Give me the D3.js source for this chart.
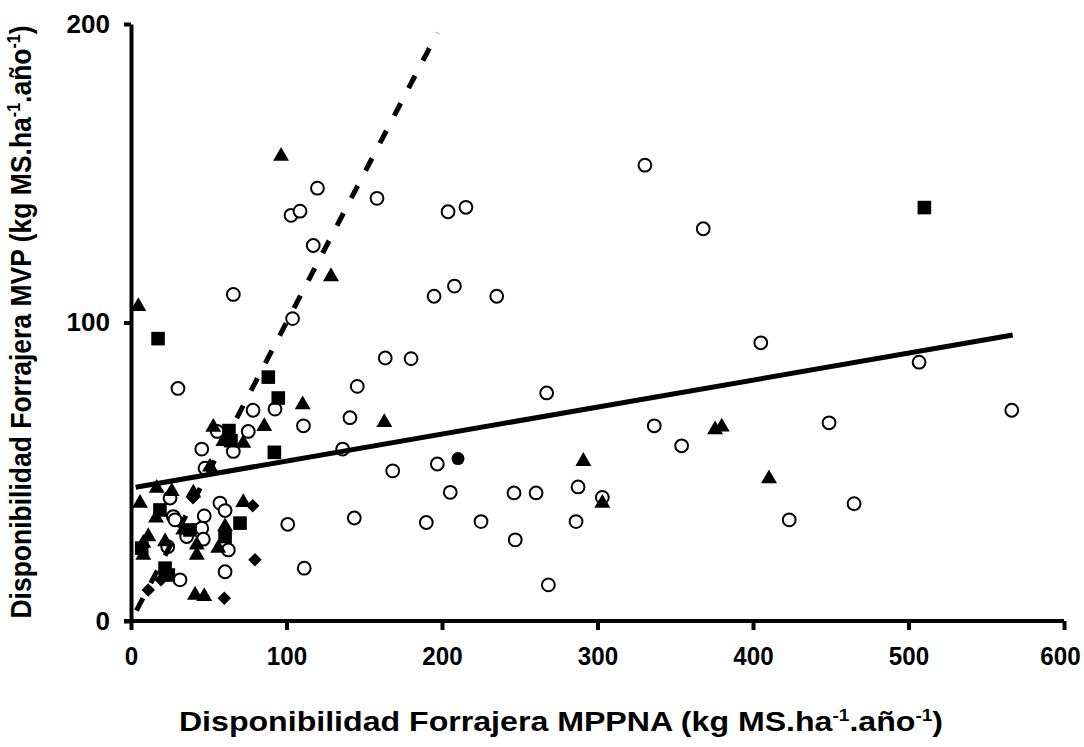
<!DOCTYPE html>
<html>
<head>
<meta charset="utf-8">
<script src="https://cdn.jsdelivr.net/npm/d3@7"></script>
<style>
  body { margin: 0; background: #fff; }
  text { font-family: "Liberation Sans", Arial, sans-serif; font-weight: bold; fill: #000; }
</style>
</head>
<body>
<div id="chart"></div>
<script>
// open circles
var circleX = [119.9, 102.9, 108.7, 117.2, 103.9, 158.2, 203.9, 215.4, 65.8, 194.9, 208.0, 235.2, 330.5, 368.0,
  163.5, 180.1, 145.5, 30.2, 140.8, 110.9, 78.5, 92.6, 75.4, 55.5, 65.8, 45.5, 47.6, 136.1, 168.3, 197.0,
  267.3, 336.5, 354.1, 205.3, 246.3, 260.5, 287.5, 303.1, 143.6, 189.9, 225.1, 286.2, 247.1, 268.4, 111.4,
  405.0, 506.8, 566.4, 448.9, 465.0, 423.3, 25.1, 27.2, 28.3, 57.2, 60.5, 47.1, 45.5, 35.8, 46.5, 23.6,
  62.6, 60.5, 31.5, 100.8];
var circleY = [145.0, 135.9, 137.3, 125.8, 101.3, 141.6, 137.1, 138.6, 109.4, 108.8, 112.2, 108.8, 152.7, 131.4,
  88.1, 87.9, 78.6, 77.9, 68.1, 65.4, 70.6, 71.0, 63.5, 63.5, 56.8, 57.6, 51.2, 57.6, 50.3, 52.6,
  76.4, 65.4, 58.7, 43.1, 42.9, 42.9, 44.9, 41.4, 34.5, 33.0, 33.3, 33.3, 27.2, 12.1, 17.7,
  93.2, 86.7, 70.6, 66.4, 39.3, 33.9, 41.2, 35.0, 33.9, 39.5, 37.0, 35.2, 31.1, 28.3, 27.4, 24.9,
  23.8, 16.5, 13.8, 32.4];

// filled diamonds
var diamondX = [78.3, 79.7, 19.3, 11.1, 60.0, 39.9];
var diamondY = [38.6, 20.5, 13.8, 10.4, 7.6, 41.3];

// filled squares
var squareX = [510.2, 17.4, 88.3, 94.7, 63.0, 64.3, 92.2, 18.6, 70.1, 60.5, 37.9, 6.9, 21.9, 24.0];
var squareY = [138.5, 94.6, 81.7, 74.7, 63.8, 60.4, 56.5, 37.2, 32.8, 28.3, 30.5, 24.4, 17.7, 15.4];

// filled triangles
var triangleX = [96.5, 128.6, 4.7, 110.4, 162.9, 85.7, 52.9, 72.2, 59.4, 50.8, 290.9, 303.1, 375.6, 379.9,
  410.3, 16.5, 26.2, 40.1, 5.8, 72.2, 60.5, 33.6, 21.9, 11.1, 7.9, 7.9, 42.3, 42.3, 56.1, 16.1, 41.2, 47.1];
var triangleY = [155.7, 115.4, 105.4, 72.5, 66.5, 65.2, 64.9, 59.6, 60.2, 51.6, 53.5, 39.5, 64.1, 65.0,
  47.7, 44.5, 43.4, 42.9, 39.5, 39.7, 31.6, 30.5, 26.6, 28.3, 26.1, 22.1, 25.5, 22.1, 24.4, 34.5, 8.7, 8.2];

// filled circle
var dotX = [210.3];
var dotY = [54.4];

// regression line and 1:1 line
var trendX = [3, 567];
var trendY = [44.8, 95.8];
var refX = [3.5, 197];
var refY = [3.5, 197];

var xTicks = [0, 100, 200, 300, 400, 500, 600];
var yTicks = [0, 100, 200];

var width = 1084, height = 747;
var svg = d3.select("#chart").append("svg")
  .attr("width", width)
  .attr("height", height);

var x = d3.scaleLinear().domain([0, 600]).range([131, 1064]);
var y = d3.scaleLinear().domain([0, 200]).range([621, 24]);

function pts(xs, ys) {
  return xs.map(function (d, i) { return [xs[i], ys[i]]; });
}

// open circles
svg.append("g").selectAll("circle")
  .data(pts(circleX, circleY))
  .enter().append("circle")
  .attr("cx", function (d) { return x(d[0]); })
  .attr("cy", function (d) { return y(d[1]); })
  .attr("r", 6.4)
  .attr("fill", "#fff")
  .attr("stroke", "#000")
  .attr("stroke-width", 2);

svg.append("g").selectAll("circle")
  .data(pts(dotX, dotY))
  .enter().append("circle")
  .attr("cx", function (d) { return x(d[0]); })
  .attr("cy", function (d) { return y(d[1]); })
  .attr("r", 6.5)
  .attr("fill", "#000");

svg.append("g").selectAll("path")
  .data(pts(diamondX, diamondY))
  .enter().append("path")
  .attr("d", d3.symbol().type(d3.symbolSquare).size(90))
  .attr("transform", function (d) { return "translate(" + x(d[0]) + "," + y(d[1]) + ") rotate(45)"; })
  .attr("fill", "#000");

svg.append("g").selectAll("path")
  .data(pts(squareX, squareY))
  .enter().append("path")
  .attr("d", d3.symbol().type(d3.symbolSquare).size(185))
  .attr("transform", function (d) { return "translate(" + x(d[0]) + "," + y(d[1]) + ")"; })
  .attr("fill", "#000");

svg.append("g").selectAll("path")
  .data(pts(triangleX, triangleY))
  .enter().append("path")
  .attr("d", d3.symbol().type(d3.symbolTriangle).size(110))
  .attr("transform", function (d) { return "translate(" + x(d[0]) + "," + y(d[1]) + ")"; })
  .attr("fill", "#000");

var line = d3.line()
  .x(function (d) { return x(d[0]); })
  .y(function (d) { return y(d[1]); });

svg.append("path")
  .datum(pts(trendX, trendY))
  .attr("d", line)
  .attr("fill", "none")
  .attr("stroke", "#000")
  .attr("stroke-width", 5);

svg.append("path")
  .datum(pts(refX, refY))
  .attr("d", line)
  .attr("fill", "none")
  .attr("stroke", "#000")
  .attr("stroke-width", 5)
  .attr("stroke-dasharray", "14,17");

// axes
var xAxis = svg.append("g")
  .attr("transform", "translate(0," + y(0) + ")")
  .call(d3.axisBottom(x).tickValues(xTicks).tickSize(9).tickPadding(17).tickSizeOuter(0));
var yAxis = svg.append("g")
  .attr("transform", "translate(" + x(0) + ",0)")
  .call(d3.axisLeft(y).tickValues(yTicks).tickSize(7).tickPadding(14).tickSizeOuter(0));

[xAxis, yAxis].forEach(function (a) {
  a.select(".domain").attr("stroke-width", 4).attr("stroke", "#000");
  a.selectAll(".tick line").attr("stroke-width", 4).attr("stroke", "#000");
  a.selectAll(".tick text").style("font-size", "26px")
    .style("font-family", "'Liberation Sans', Arial, sans-serif").style("font-weight", "bold");
});
xAxis.select(".domain").attr("d", "M" + (x(0) - 7) + ",0H" + x(600));
// narrow the x labels a little, keep "600" inside the frame
xAxis.selectAll(".tick text")
  .attr("transform", function (d) { return (d === 600 ? "translate(-4,0) " : "") + "scale(0.93,1)"; });

// axis titles
function title(g, main, size) {
  var sup = Math.round(size * 0.6) + "px";
  var t = g.append("text").attr("text-anchor", "middle").style("font-size", size + "px");
  t.append("tspan").text(main);
  t.append("tspan").attr("dy", -10).style("font-size", sup).text("-1");
  t.append("tspan").attr("dy", 10).text(".año");
  t.append("tspan").attr("dy", -10).style("font-size", sup).text("-1");
  t.append("tspan").attr("dy", 10).text(")");
  return t;
}

var xt = svg.append("g").attr("transform", "translate(561,731) scale(1.19,1)");
title(xt, "Disponibilidad Forrajera MPPNA (kg MS.ha", 27);

var yt = svg.append("g").attr("transform", "translate(31,322) rotate(-90) scale(1,1.12)");
title(yt, "Disponibilidad Forrajera MVP (kg MS.ha", 26.5);
</script>
</body>
</html>
